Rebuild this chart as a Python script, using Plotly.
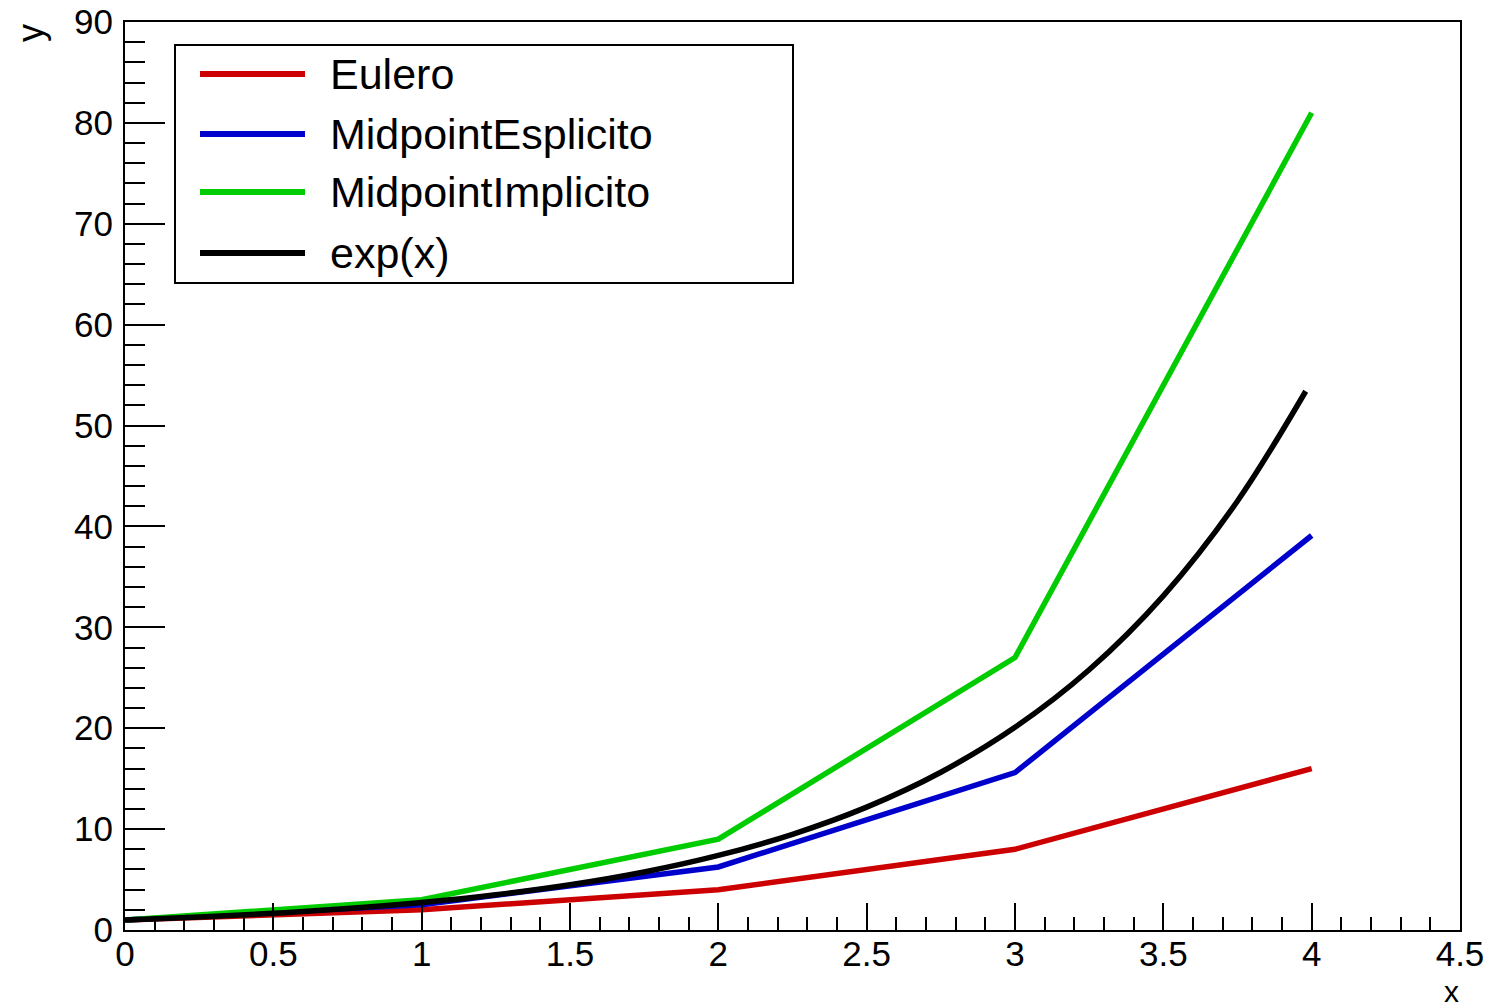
import plotly.graph_objects as go

# ---- data ----
x_steps = [0, 1, 2, 3, 4]
eulero = [1, 2, 4, 8, 16]
midpoint_esplicito = [1, 2.5, 6.25, 15.6, 39.1]
midpoint_implicito = [1, 3, 9, 27, 81]

exp_x = [0, 0.25, 0.5, 0.75, 1.0, 1.25, 1.5, 1.75, 2.0, 2.25, 2.5, 2.75,
         3.0, 3.25, 3.5, 3.75, 3.98]
exp_y = [1, 1.28, 1.65, 2.12, 2.72, 3.49, 4.48, 5.75, 7.39, 9.49, 12.18,
         15.64, 20.09, 25.79, 33.12, 42.52, 53.4]

series_names = ["Eulero", "MidpointEsplicito", "MidpointImplicito", "exp(x)"]
series_colors = ["#cc0000", "#0000cc", "#00cc00", "#000000"]

x_range = [0, 4.5]
y_range = [0, 90]

FONT = "Liberation Sans, Arial, Helvetica, sans-serif"

fig = go.Figure()
step_series = [eulero, midpoint_esplicito, midpoint_implicito]
for name, ys, col in zip(series_names[:3], step_series, series_colors[:3]):
    fig.add_trace(go.Scatter(x=x_steps, y=ys, mode="lines", name=name,
                             line=dict(color=col, width=5.5)))
fig.add_trace(go.Scatter(x=exp_x, y=exp_y, mode="lines", name=series_names[3],
                         line=dict(color=series_colors[3], width=5.5, shape="spline")))

W, H = 1495, 1007
L, R, T, B = 125, 35, 22, 77
pw, ph = W - L - R, H - T - B

def px(xpix):
    return (xpix - L) / pw

def py(ypix):
    return 1 - (ypix - T) / ph

shapes = []
annotations = []
# legend box
shapes.append(dict(type="rect", xref="paper", yref="paper",
                   x0=px(175), x1=px(793), y0=py(283), y1=py(45),
                   line=dict(color="black", width=2), fillcolor="white", layer="above"))
rows = [74, 134, 192, 253]
for name, col, ry in zip(series_names, series_colors, rows):
    shapes.append(dict(type="line", xref="paper", yref="paper",
                       x0=px(200), x1=px(305), y0=py(ry), y1=py(ry),
                       line=dict(color=col, width=6), layer="above"))
    annotations.append(dict(text=name, xref="paper", yref="paper",
                            x=px(328), y=py(ry), xanchor="left", yanchor="middle",
                            showarrow=False, font=dict(family=FONT, size=43, color="black")))

# axis titles
annotations.append(dict(text="y", xref="paper", yref="paper", x=px(30), y=1,
                        xanchor="center", yanchor="top", textangle=-90, showarrow=False,
                        font=dict(family=FONT, size=36, color="black")))
annotations.append(dict(text="x", xref="paper", yref="paper", x=1, y=py(991),
                        xanchor="right", yanchor="middle", showarrow=False,
                        borderpad=0,
                        font=dict(family=FONT, size=30, color="black")))

fig.update_layout(
    width=W, height=H,
    margin=dict(l=L, r=R, t=T, b=B, pad=0, autoexpand=False),
    paper_bgcolor="white", plot_bgcolor="white",
    showlegend=False,
    font=dict(family=FONT, size=35, color="black"),
    shapes=shapes, annotations=annotations,
)
fig.update_xaxes(range=x_range, dtick=0.5, tick0=0, showgrid=False, zeroline=False,
                 automargin=False,
                 showline=True, linecolor="black", linewidth=2, mirror=True,
                 ticks="inside", ticklen=27, tickwidth=2, tickcolor="black",
                 ticklabelstandoff=-8,
                 minor=dict(dtick=0.1, tick0=0, ticks="inside", ticklen=13,
                            tickwidth=2, tickcolor="black", showgrid=False),
                 tickfont=dict(family=FONT, size=35, color="black"))
fig.update_yaxes(range=y_range, dtick=10, tick0=0, showgrid=False, zeroline=False,
                 automargin=False,
                 showline=True, linecolor="black", linewidth=2, mirror=True,
                 ticks="inside", ticklen=40, tickwidth=2, tickcolor="black",
                 ticklabelstandoff=3,
                 minor=dict(dtick=2, tick0=0, ticks="inside", ticklen=20,
                            tickwidth=2, tickcolor="black", showgrid=False),
                 tickfont=dict(family=FONT, size=35, color="black"))

fig.write_html("out.html", config={"displayModeBar": False},
               post_script="document.body.style.margin='0px';document.body.style.overflow='hidden';")
